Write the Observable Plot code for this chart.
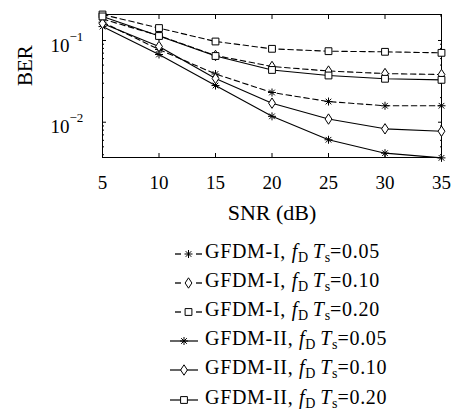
<!DOCTYPE html>
<html><head><meta charset="utf-8">
<script src="https://cdn.jsdelivr.net/npm/d3@7"></script>
<script src="https://cdn.jsdelivr.net/npm/@observablehq/plot@0.6"></script>
<style>
body{margin:0;background:#fff;font-family:"Liberation Serif","Times New Roman","DejaVu Serif",serif;color:#000;width:460px;height:414px;overflow:hidden}
#legend{margin-top:7px}
.row{height:29.2px;position:relative}
.row svg{position:absolute;left:166px;top:4.6px}
.row .lab{position:absolute;left:205px;top:50%;transform:translateY(-55%);font-size:20px;letter-spacing:0.7px;white-space:nowrap;line-height:1}
.row sub{font-size:70%;vertical-align:-0.25em;letter-spacing:0}
svg text{font-family:"Liberation Serif","Times New Roman","DejaVu Serif",serif}
</style></head><body><div id="chart"></div><div id="legend"></div>
<script>
// ---- data ----
const snrDb = [5, 10, 15, 20, 25, 30, 35];
const berGfdmI_005  = [0.1675, 0.0776, 0.0389, 0.0231, 0.0179, 0.0159, 0.0159];
const berGfdmI_010  = [0.183, 0.115, 0.0655, 0.0481, 0.0423, 0.0394, 0.0383];
const berGfdmI_020  = [0.208, 0.142, 0.0972, 0.0791, 0.074, 0.0727, 0.0706];
const berGfdmII_005 = [0.148, 0.0674, 0.0281, 0.0118, 0.0061, 0.00418, 0.00366];
const berGfdmII_010 = [0.1614, 0.0845, 0.0343, 0.0171, 0.01093, 0.0083, 0.00776];
const berGfdmII_020 = [0.197, 0.1135, 0.0646, 0.0436, 0.0373, 0.034, 0.033];
const schemeNames = ["GFDM-I", "GFDM-II"];
const fdTsValues = ["0.05", "0.10", "0.20"];
const xTicks = [5, 10, 15, 20, 25, 30, 35];
const yMajorTicks = [0.01, 0.1];
const yTickExponents = ["\u22122", "\u22121"];
const yMinorTicks = [0.004, 0.005, 0.006, 0.007, 0.008, 0.009, 0.02, 0.03, 0.04, 0.05, 0.06, 0.07, 0.08, 0.09, 0.2];
const yDomain = [0.0037, 0.208];

// ---- symbols ----
const symAsterisk = {draw(ctx, size) { const r = Math.sqrt(size / Math.PI);
  for (let k = 0; k < 4; k++) { const a = k * Math.PI / 4, dx = r * Math.cos(a), dy = r * Math.sin(a); ctx.moveTo(-dx, -dy); ctx.lineTo(dx, dy); } }};
const symDiamond = {draw(ctx, size) { const r = Math.sqrt(size / Math.PI), w = r * 0.85, h = r * 1.3;
  ctx.moveTo(0, -h); ctx.lineTo(w, 0); ctx.lineTo(0, h); ctx.lineTo(-w, 0); ctx.closePath(); }};
const symSquare = {draw(ctx, size) { const r = Math.sqrt(size / Math.PI), s = r * 0.85; ctx.rect(-s, -s, 2 * s, 2 * s); }};
const markerSyms = [symAsterisk, symDiamond, symSquare];
const markerFill = ["none", "#fff", "#fff"];

const seriesValues = [[berGfdmI_005, berGfdmI_010, berGfdmI_020], [berGfdmII_005, berGfdmII_010, berGfdmII_020]];
const series = [];
schemeNames.forEach((sch, si) => fdTsValues.forEach((fd, fi) => {
  series.push({scheme: sch, fd, dashed: si === 0, mi: fi,
    rows: snrDb.map((x, i) => ({snr: x, ber: seriesValues[si][fi][i]}))});
}));

const DASH = "5.5,3.5";
const FONT = "'Liberation Serif', 'Times New Roman', 'DejaVu Serif', serif";
const W = 460, H = 232;
const marks = [];
series.forEach(s => {
  marks.push(Plot.line(s.rows, {x: "snr", y: "ber", stroke: "#000", strokeWidth: 1.1, strokeDasharray: s.dashed ? DASH : null}));
  marks.push(Plot.dot(s.rows, {x: "snr", y: "ber", r: 4, symbol: markerSyms[s.mi], stroke: "#000", strokeWidth: 1, fill: markerFill[s.mi]}));
});

const chart = Plot.plot({
  width: W, height: H, marginLeft: 102, marginRight: 19, marginTop: 14, marginBottom: 75,
  style: {fontFamily: FONT, fontSize: "19px", color: "#000", background: "#fff", overflow: "visible"},
  x: {domain: [5, 35]},
  y: {type: "log", domain: yDomain},
  marks: [
    Plot.frame({stroke: "#000", strokeWidth: 1}),
    Plot.axisX(xTicks, {anchor: "bottom", tickSize: 0, tickPadding: 18, fontSize: 19, label: null}),
    Plot.axisX(xTicks, {anchor: "bottom", tickSize: -4, tickFormat: () => "", label: null}),
    Plot.axisX(xTicks, {anchor: "top", tickSize: -4, tickFormat: () => "", label: null}),
    Plot.axisY(yMajorTicks, {anchor: "left", tickSize: -4, tickFormat: () => "", label: null}),
    Plot.axisY(yMajorTicks, {anchor: "right", tickSize: -4, tickFormat: () => "", label: null}),
    Plot.axisY(yMinorTicks, {anchor: "left", tickSize: -2, tickFormat: () => "", label: null}),
    Plot.axisY(yMinorTicks, {anchor: "right", tickSize: -2, tickFormat: () => "", label: null}),
    Plot.text(yMajorTicks, {y: d => d, frameAnchor: "left", text: () => "10", textAnchor: "end", dx: -33, dy: 5, fontSize: 19}),
    Plot.text(yMajorTicks, {y: d => d, frameAnchor: "left", text: (d, i) => yTickExponents[i], textAnchor: "start", dx: -33, dy: -4, fontSize: 13}),
    Plot.text(["BER"], {text: d => d, frameAnchor: "left", dx: -77, rotate: -90, fontSize: 21}),
    Plot.text(["SNR (dB)"], {text: d => d, frameAnchor: "bottom", dy: 62, fontSize: 22}),
    ...marks
  ]
});
document.getElementById("chart").appendChild(chart);

// ---- legend ----
const legend = d3.select("#legend");
series.forEach(s => {
  const row = legend.append("div").attr("class", "row");
  const svg = row.append("svg").attr("width", 40).attr("height", 20);
  const cy = 10;
  let mx;
  if (s.dashed) {
    mx = 22.5;
    svg.append("line").attr("x1", 9).attr("x2", 15).attr("y1", cy).attr("y2", cy).attr("stroke", "#000").attr("stroke-width", 1.3);
    svg.append("line").attr("x1", 30).attr("x2", 36).attr("y1", cy).attr("y2", cy).attr("stroke", "#000").attr("stroke-width", 1.3);
  } else {
    mx = 18;
    svg.append("line").attr("x1", 4).attr("x2", 32).attr("y1", cy).attr("y2", cy).attr("stroke", "#000").attr("stroke-width", 1.2);
  }
  svg.append("path").attr("d", d3.symbol(markerSyms[s.mi], Math.PI * 16)())
    .attr("transform", `translate(${mx},${cy})`).attr("fill", markerFill[s.mi]).attr("stroke", "#000");
  row.append("span").attr("class", "lab")
    .html(`${s.scheme}, <i>f</i><sub>D</sub>\u2009<i>T</i><sub>s</sub>=${s.fd}`);
});
</script>
</body></html>
